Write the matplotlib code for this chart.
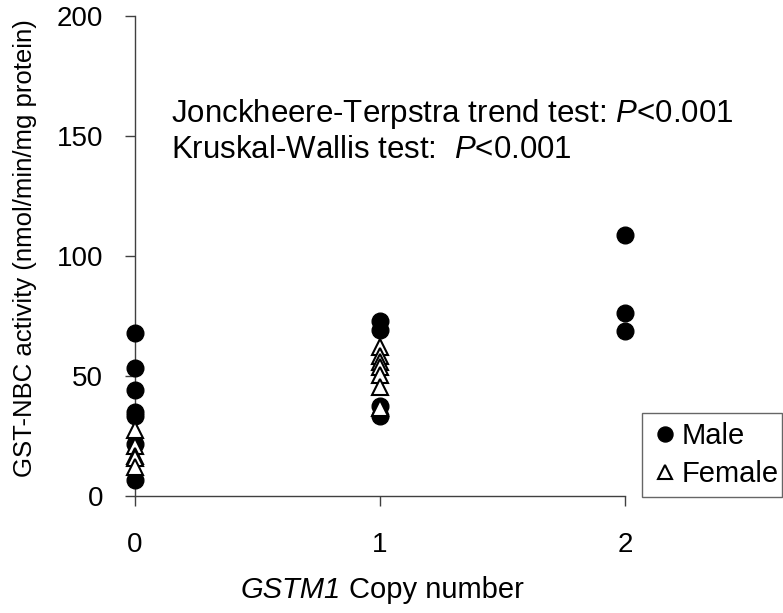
import numpy as np
import matplotlib
matplotlib.use("Agg")
import matplotlib.pyplot as plt

plt.rcParams["font.family"] = ["Liberation Sans", "DejaVu Sans"]
plt.rcParams["mathtext.fontset"] = "custom"
plt.rcParams["mathtext.rm"] = "Liberation Sans"
plt.rcParams["mathtext.it"] = "Liberation Sans:italic"

# data
male_x = [0, 0, 0, 0, 0, 0, 0, 1, 1, 1, 1, 2, 2, 2]
male_y = [67.9, 53.5, 44.3, 35.0, 33.5, 21.7, 6.5, 72.9, 69.2, 37.3, 33.5, 108.7, 76.2, 68.7]
female_x = [0, 0, 0, 0, 0, 1, 1, 1, 1, 1, 1, 1]
female_y = [27.5, 21.0, 16.8, 15.7, 12.0, 62.0, 58.5, 56.0, 53.6, 50.4, 45.5, 36.5]

xticks = [0, 1, 2]
yticks = [0, 50, 100, 150, 200]

W, H = 783, 613
fig = plt.figure(figsize=(W / 100, H / 100), dpi=100)
ax = fig.add_axes([135 / W, 1 - 496 / H, 490 / W, 480 / H])

ax.plot(male_x, male_y, "o", ms=12, color="black", clip_on=False, label="Male", zorder=3)
ax.plot(female_x, female_y, "^", ms=11.5, mfc="white", mec="black", mew=1.5,
        clip_on=False, label="Female", zorder=4)

ax.set_xlim(0, 2)
ax.set_ylim(0, 200)
ax.set_xticks(xticks)
ax.set_yticks(yticks)
for s in ["top", "right"]:
    ax.spines[s].set_visible(False)
for s in ["left", "bottom"]:
    ax.spines[s].set_color("#404040")
    ax.spines[s].set_linewidth(1.0)
ax.tick_params(axis="x", direction="out", length=7, width=1, color="#404040",
               labelsize=20, pad=19)
ax.tick_params(axis="y", direction="out", length=7, width=1, color="#404040",
               labelsize=20, pad=16)

# axis titles (GSTM1 in italics)
fig.text(341 / W, 1 - 590 / H, "GSTM1", fontsize=21, style="italic", ha="right", va="center")
fig.text(349 / W, 1 - 590 / H, "Copy number", fontsize=21, ha="left", va="center")
fig.text(25 / W, 1 - 248 / H, "GST-NBC activity (nmol/min/mg protein)", fontsize=18.5,
         rotation=90, ha="center", va="center")

ax.text(0.147, 159, r"Jonckheere-Terpstra trend test: $\it{P}$<0.001",
        fontsize=22.5, va="center", ha="left")
ax.text(0.147, 144, r"Kruskal-Wallis test:  $\it{P}$<0.001",
        fontsize=22.5, va="center", ha="left")

leg = ax.legend(loc="lower left", bbox_to_anchor=(642 / W, (H - 497) / H, 140 / W, 92 / H),
                bbox_transform=fig.transFigure, fontsize=21, frameon=True, fancybox=False,
                edgecolor="#404040", handletextpad=0.05, handlelength=1.0, borderpad=0.3,
                labelspacing=0.35, markerscale=0.9, mode="expand", borderaxespad=0)
leg.get_frame().set_linewidth(1.0)

fig.savefig("out.png", dpi=100)
